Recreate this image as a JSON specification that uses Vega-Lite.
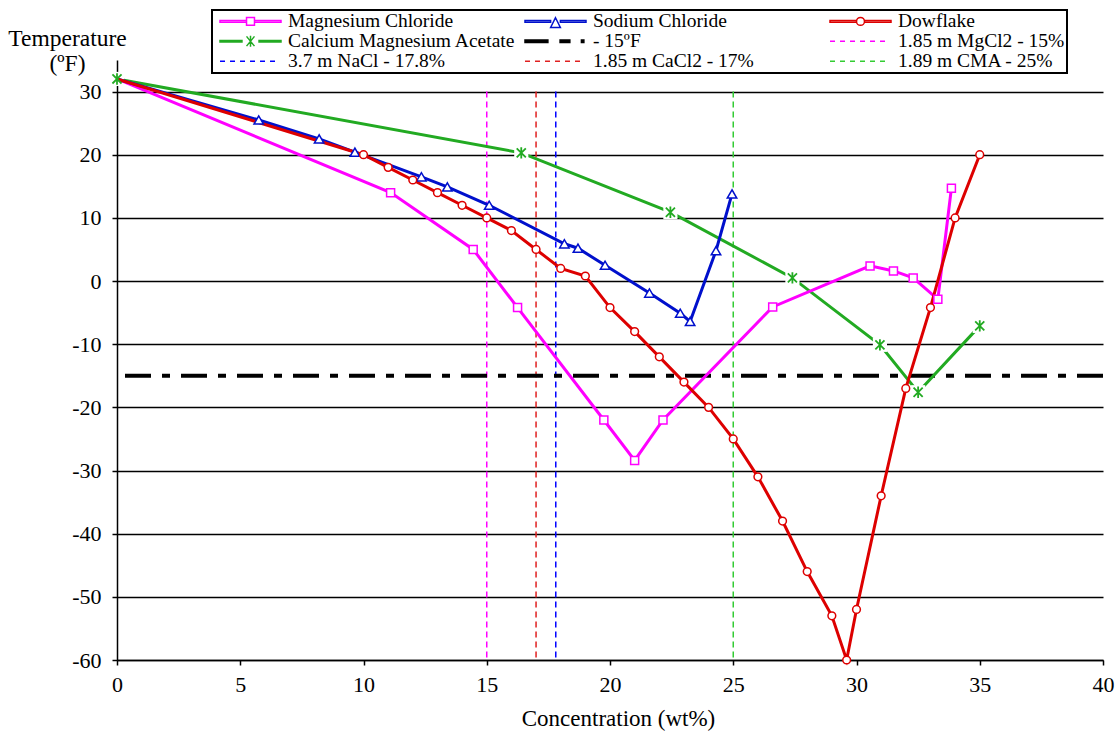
{
  "$schema": "https://vega.github.io/schema/vega-lite/v6.json",
  "width": 986,
  "height": 600,
  "autosize": "none",
  "padding": {"left": 117, "top": 60, "right": 17, "bottom": 72},
  "background": "white",
  "config": {
    "font": "Liberation Serif, Times New Roman, DejaVu Serif, serif",
    "view": {"stroke": null},
    "axis": {"labelFont": "Liberation Serif, Times New Roman, DejaVu Serif, serif", "titleFont": "Liberation Serif, Times New Roman, DejaVu Serif, serif", "labelColor": "black", "titleColor": "black", "titleFontWeight": "normal", "domainColor": "black", "tickColor": "black"},
    "legend": {"labelFont": "Liberation Serif, Times New Roman, DejaVu Serif, serif"}
  },
  "datasets": {
    "series": [
      {"series": "Magnesium Chloride", "x": 0, "y": 32},
      {"series": "Magnesium Chloride", "x": 11.1, "y": 14},
      {"series": "Magnesium Chloride", "x": 14.45, "y": 5},
      {"series": "Magnesium Chloride", "x": 16.25, "y": -4.2},
      {"series": "Magnesium Chloride", "x": 19.75, "y": -22},
      {"series": "Magnesium Chloride", "x": 21, "y": -28.4},
      {"series": "Magnesium Chloride", "x": 22.15, "y": -22},
      {"series": "Magnesium Chloride", "x": 26.6, "y": -4.1},
      {"series": "Magnesium Chloride", "x": 30.55, "y": 2.4},
      {"series": "Magnesium Chloride", "x": 31.5, "y": 1.6},
      {"series": "Magnesium Chloride", "x": 32.3, "y": 0.5},
      {"series": "Magnesium Chloride", "x": 33.3, "y": -2.9},
      {"series": "Magnesium Chloride", "x": 33.85, "y": 14.7},
      {"series": "Sodium Chloride", "x": 0, "y": 32},
      {"series": "Sodium Chloride", "x": 5.75, "y": 25.5},
      {"series": "Sodium Chloride", "x": 8.2, "y": 22.5},
      {"series": "Sodium Chloride", "x": 9.65, "y": 20.4},
      {"series": "Sodium Chloride", "x": 12.35, "y": 16.5},
      {"series": "Sodium Chloride", "x": 13.4, "y": 14.9},
      {"series": "Sodium Chloride", "x": 15.1, "y": 12},
      {"series": "Sodium Chloride", "x": 18.15, "y": 5.9},
      {"series": "Sodium Chloride", "x": 18.7, "y": 5.2},
      {"series": "Sodium Chloride", "x": 19.8, "y": 2.5},
      {"series": "Sodium Chloride", "x": 21.6, "y": -1.9},
      {"series": "Sodium Chloride", "x": 22.85, "y": -5.1},
      {"series": "Sodium Chloride", "x": 23.25, "y": -6.4},
      {"series": "Sodium Chloride", "x": 24.3, "y": 4.8},
      {"series": "Sodium Chloride", "x": 24.95, "y": 13.8},
      {"series": "Dowflake", "x": 0, "y": 32},
      {"series": "Dowflake", "x": 10, "y": 20},
      {"series": "Dowflake", "x": 11, "y": 18},
      {"series": "Dowflake", "x": 12, "y": 16},
      {"series": "Dowflake", "x": 13, "y": 14},
      {"series": "Dowflake", "x": 14, "y": 12},
      {"series": "Dowflake", "x": 15, "y": 10},
      {"series": "Dowflake", "x": 16, "y": 8},
      {"series": "Dowflake", "x": 17, "y": 5},
      {"series": "Dowflake", "x": 18, "y": 2},
      {"series": "Dowflake", "x": 19, "y": 0.8},
      {"series": "Dowflake", "x": 20, "y": -4.2},
      {"series": "Dowflake", "x": 21, "y": -8},
      {"series": "Dowflake", "x": 22, "y": -12},
      {"series": "Dowflake", "x": 23, "y": -16},
      {"series": "Dowflake", "x": 24, "y": -20},
      {"series": "Dowflake", "x": 25, "y": -25},
      {"series": "Dowflake", "x": 26, "y": -31},
      {"series": "Dowflake", "x": 27, "y": -38},
      {"series": "Dowflake", "x": 28, "y": -46},
      {"series": "Dowflake", "x": 29, "y": -53},
      {"series": "Dowflake", "x": 29.6, "y": -60},
      {"series": "Dowflake", "x": 30, "y": -52},
      {"series": "Dowflake", "x": 31, "y": -34},
      {"series": "Dowflake", "x": 32, "y": -17},
      {"series": "Dowflake", "x": 33, "y": -4.2},
      {"series": "Dowflake", "x": 34, "y": 10},
      {"series": "Dowflake", "x": 35, "y": 20},
      {"series": "Calcium Magnesium Acetate", "x": 0, "y": 32},
      {"series": "Calcium Magnesium Acetate", "x": 16.4, "y": 20.3},
      {"series": "Calcium Magnesium Acetate", "x": 22.45, "y": 10.9},
      {"series": "Calcium Magnesium Acetate", "x": 27.4, "y": 0.5},
      {"series": "Calcium Magnesium Acetate", "x": 30.95, "y": -10.1},
      {"series": "Calcium Magnesium Acetate", "x": 32.5, "y": -17.6},
      {"series": "Calcium Magnesium Acetate", "x": 35, "y": -7.1}
    ],
    "vlines": [
      {"series": "1.85 m MgCl2 - 15%", "x": 15},
      {"series": "1.85 m CaCl2 - 17%", "x": 17},
      {"series": "3.7 m NaCl - 17.8%", "x": 17.8},
      {"series": "1.89 m CMA - 25%", "x": 25}
    ],
    "hline": [
      {"series": "- 15ºF", "y": -15}
    ]
  },
  "layer": [
    {
      "data": {"name": "vlines"},
      "mark": {"type": "rule", "strokeWidth": 1.5, "strokeDash": [6, 4]},
      "encoding": {
        "x": {"field": "x", "type": "quantitative", "scale": {"domain": [0, 40], "nice": false},
          "axis": {"values": [0, 5, 10, 15, 20, 25, 30, 35, 40], "title": "Concentration (wt%)", "labelFontSize": 22, "labelFlush": false, "labelOverlap": false, "labelPadding": 9, "tickSize": 5, "tickWidth": 1.5, "domainWidth": 1.5, "grid": false, "titleFontSize": 23, "titleBaseline": "alphabetic", "titleX": 501, "titleY": 65, "titleAnchor": "middle"}},
        "y": {"datum": 30, "type": "quantitative", "scale": {"domain": [-60, 35], "nice": false, "zero": false},
          "axis": {"values": [-60, -55, -50, -45, -40, -35, -30, -25, -20, -15, -10, -5, 0, 5, 10, 15, 20, 25, 30, 35],
            "labelExpr": "(datum.value % 10 === 0 && datum.value <= 30) ? ('' + datum.value) : ''",
            "labelFontSize": 22, "labelPadding": 11, "tickSize": 5, "tickWidth": 1.5, "domainWidth": 1.5,
            "grid": true, "gridColor": "black", "gridWidth": 1.5,
            "gridOpacity": {"condition": {"test": "datum.value % 10 === 0 && datum.value <= 30", "value": 1}, "value": 0},
            "title": ["Temperature", "(ºF)"], "titleAngle": 0, "titleAlign": "center", "titleBaseline": "alphabetic", "titleX": -50, "titleY": -15, "titleFontSize": 23.5, "titleLineHeight": 25}},
        "y2": {"datum": -60},
        "stroke": {"field": "series", "type": "nominal", "legend": null,
          "scale": {"domain": ["Calcium Magnesium Acetate", "- 15ºF", "1.85 m MgCl2 - 15%", "3.7 m NaCl - 17.8%", "1.85 m CaCl2 - 17%", "1.89 m CMA - 25%", "Magnesium Chloride", "Sodium Chloride", "Dowflake"],
            "range": ["#22AA22", "#000000", "#FF00FF", "#0000FF", "#E02020", "#33CC33", "#FF00FF", "#0010CC", "#DD0000"]}}
      }
    },
    {
      "data": {"name": "hline"},
      "mark": {"type": "rule", "strokeWidth": 4, "strokeDash": [26, 11, 8, 11]},
      "encoding": {
        "y": {"field": "y", "type": "quantitative"},
        "stroke": {"field": "series", "type": "nominal", "legend": null,
          "scale": {"domain": ["Calcium Magnesium Acetate", "- 15ºF", "1.85 m MgCl2 - 15%", "3.7 m NaCl - 17.8%", "1.85 m CaCl2 - 17%", "1.89 m CMA - 25%", "Magnesium Chloride", "Sodium Chloride", "Dowflake"],
            "range": ["#22AA22", "#000000", "#FF00FF", "#0000FF", "#E02020", "#33CC33", "#FF00FF", "#0010CC", "#DD0000"]}}
      }
    },
    {
      "data": {"name": "series"},
      "transform": [{"filter": "datum.series === 'Calcium Magnesium Acetate'"}],
      "mark": {"type": "line", "strokeWidth": 3},
      "encoding": {
        "x": {"field": "x", "type": "quantitative"},
        "y": {"field": "y", "type": "quantitative"},
        "stroke": {"field": "series", "type": "nominal", "legend": null,
          "scale": {"domain": ["Calcium Magnesium Acetate", "- 15ºF", "1.85 m MgCl2 - 15%", "3.7 m NaCl - 17.8%", "1.85 m CaCl2 - 17%", "1.89 m CMA - 25%", "Magnesium Chloride", "Sodium Chloride", "Dowflake"],
            "range": ["#22AA22", "#000000", "#FF00FF", "#0000FF", "#E02020", "#33CC33", "#FF00FF", "#0010CC", "#DD0000"]}}
      }
    },
    {
      "data": {"name": "series"},
      "transform": [{"filter": "datum.series === 'Calcium Magnesium Acetate'"}],
      "mark": {"type": "point", "shape": "square", "filled": true, "color": "white", "opacity": 1, "size": 200, "strokeWidth": 0},
      "encoding": {
        "x": {"field": "x", "type": "quantitative"},
        "y": {"field": "y", "type": "quantitative"}
      }
    },
    {
      "data": {"name": "series"},
      "transform": [{"filter": "datum.series !== 'Calcium Magnesium Acetate'"}],
      "mark": {"type": "line", "strokeWidth": 3},
      "encoding": {
        "x": {"field": "x", "type": "quantitative"},
        "y": {"field": "y", "type": "quantitative"},
        "color": {"field": "series", "type": "nominal",
          "scale": {"domain": ["Magnesium Chloride", "Sodium Chloride", "Dowflake", "Calcium Magnesium Acetate", "- 15ºF", "1.85 m MgCl2 - 15%", "3.7 m NaCl - 17.8%", "1.85 m CaCl2 - 17%", "1.89 m CMA - 25%"],
            "range": ["#FF00FF", "#0010CC", "#DD0000", "#22AA22", "#000000", "#FF00FF", "#0000FF", "#E02020", "#33CC33"]},
          "legend": {
            "title": null, "orient": "none", "direction": "horizontal", "legendX": 95, "legendY": -50, "columns": 3,
            "symbolSize": 3721, "clipHeight": 18.5, "rowPadding": 0, "columnPadding": 3, "gridAlign": "all",
            "padding": 2, "symbolOffset": 5, "labelOffset": 6, "symbolStrokeWidth": 1.5,
            "labelFont": "Liberation Serif, Times New Roman, DejaVu Serif, serif", "labelFontSize": 19.5, "labelColor": "black", "labelLimit": 400,
            "fillColor": "white", "strokeColor": "black",
            "labelExpr": "datum.value === '- 15ºF' ? '\u00a0\u00a0\u00a0\u00a0- 15ºF' : datum.label",
            "encode": {
              "symbols": {
                "update": {
                  "shape": {"signal": "['M-1,-0.025H-0.13V0.025H-1ZM0.13,-0.025H1V0.025H0.13ZM-0.13,-0.13H0.13V0.13H-0.13Z', 'M-1,-0.025H-0.16V0.025H-1ZM0.16,-0.025H1V0.025H0.16ZM0,-0.12L0.16,0.2H-0.16Z', 'M-1,-0.025H-0.13V0.025H-1ZM0.13,-0.025H1V0.025H0.13ZM-0.13,0A0.13,0.13 0 1 0 0.13,0A0.13,0.13 0 1 0 -0.13,0Z', 'M-1,-0.025H-0.28V0.025H-1ZM0.28,-0.025H1V0.025H0.28ZM-0.13,-0.16L0.13,0.16M-0.13,0.16L0.13,-0.16M0,-0.18V0.18', 'M-1,-0.04H-0.25V0.04H-1ZM0.15,-0.04H0.47V0.04H0.15ZM0.85,-0.04H0.93V0.04H0.85Z', 'M-1,0H-0.836M-0.672,0H-0.508M-0.344,0H-0.18M-0.016,0H0.148M0.312,0H0.476M0.64,0H0.804', 'M-1,0H-0.836M-0.672,0H-0.508M-0.344,0H-0.18M-0.016,0H0.148M0.312,0H0.476M0.64,0H0.804', 'M-1,0H-0.836M-0.672,0H-0.508M-0.344,0H-0.18M-0.016,0H0.148M0.312,0H0.476M0.64,0H0.804', 'M-1,0H-0.836M-0.672,0H-0.508M-0.344,0H-0.18M-0.016,0H0.148M0.312,0H0.476M0.64,0H0.804'][datum.index]"},
                  "fill": {"signal": "datum.index === 4 ? 'black' : 'white'"},
                  "strokeWidth": {"value": 1.5},
                  "opacity": {"value": 1}
                }
              },
              "legend": {
                "update": {"strokeWidth": {"value": 2}, "width": {"value": 930}}
              }
            }
          }}
      }
    },
    {
      "data": {"name": "series"},
      "transform": [{"filter": "datum.series === 'Magnesium Chloride' && datum.x > 0"}],
      "mark": {"type": "point", "shape": "square", "filled": false, "fill": "white", "size": 64, "strokeWidth": 1.5, "opacity": 1},
      "encoding": {
        "x": {"field": "x", "type": "quantitative"},
        "y": {"field": "y", "type": "quantitative"},
        "stroke": {"field": "series", "type": "nominal", "legend": null,
          "scale": {"domain": ["Calcium Magnesium Acetate", "- 15ºF", "1.85 m MgCl2 - 15%", "3.7 m NaCl - 17.8%", "1.85 m CaCl2 - 17%", "1.89 m CMA - 25%", "Magnesium Chloride", "Sodium Chloride", "Dowflake"],
            "range": ["#22AA22", "#000000", "#FF00FF", "#0000FF", "#E02020", "#33CC33", "#FF00FF", "#0010CC", "#DD0000"]}}
      }
    },
    {
      "data": {"name": "series"},
      "transform": [{"filter": "datum.series === 'Sodium Chloride' && datum.x > 0"}],
      "mark": {"type": "point", "shape": "triangle-up", "filled": false, "fill": "white", "size": 90, "strokeWidth": 1.5, "opacity": 1},
      "encoding": {
        "x": {"field": "x", "type": "quantitative"},
        "y": {"field": "y", "type": "quantitative"},
        "stroke": {"field": "series", "type": "nominal", "legend": null,
          "scale": {"domain": ["Calcium Magnesium Acetate", "- 15ºF", "1.85 m MgCl2 - 15%", "3.7 m NaCl - 17.8%", "1.85 m CaCl2 - 17%", "1.89 m CMA - 25%", "Magnesium Chloride", "Sodium Chloride", "Dowflake"],
            "range": ["#22AA22", "#000000", "#FF00FF", "#0000FF", "#E02020", "#33CC33", "#FF00FF", "#0010CC", "#DD0000"]}}
      }
    },
    {
      "data": {"name": "series"},
      "transform": [{"filter": "datum.series === 'Dowflake' && datum.x > 0"}],
      "mark": {"type": "point", "shape": "circle", "filled": false, "fill": "white", "size": 60, "strokeWidth": 1.5, "opacity": 1},
      "encoding": {
        "x": {"field": "x", "type": "quantitative"},
        "y": {"field": "y", "type": "quantitative"},
        "stroke": {"field": "series", "type": "nominal", "legend": null,
          "scale": {"domain": ["Calcium Magnesium Acetate", "- 15ºF", "1.85 m MgCl2 - 15%", "3.7 m NaCl - 17.8%", "1.85 m CaCl2 - 17%", "1.89 m CMA - 25%", "Magnesium Chloride", "Sodium Chloride", "Dowflake"],
            "range": ["#22AA22", "#000000", "#FF00FF", "#0000FF", "#E02020", "#33CC33", "#FF00FF", "#0010CC", "#DD0000"]}}
      }
    },
    {
      "data": {"name": "series"},
      "transform": [{"filter": "datum.series === 'Calcium Magnesium Acetate'"}],
      "mark": {"type": "point", "shape": "M-0.8,-0.8L0.8,0.8M-0.8,0.8L0.8,-0.8M0,-1V1", "filled": false, "size": 130, "strokeWidth": 1.8, "opacity": 1},
      "encoding": {
        "x": {"field": "x", "type": "quantitative"},
        "y": {"field": "y", "type": "quantitative"},
        "stroke": {"field": "series", "type": "nominal", "legend": null,
          "scale": {"domain": ["Calcium Magnesium Acetate", "- 15ºF", "1.85 m MgCl2 - 15%", "3.7 m NaCl - 17.8%", "1.85 m CaCl2 - 17%", "1.89 m CMA - 25%", "Magnesium Chloride", "Sodium Chloride", "Dowflake"],
            "range": ["#22AA22", "#000000", "#FF00FF", "#0000FF", "#E02020", "#33CC33", "#FF00FF", "#0010CC", "#DD0000"]}}
      }
    }
  ]
}
